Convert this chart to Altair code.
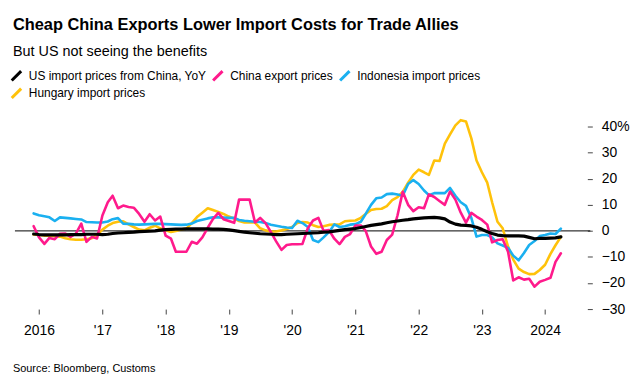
import altair as alt
import pandas as pd

# Monthly observations, Dec 2015 .. Apr 2024
months = [p.to_timestamp() for p in pd.period_range("2015-12", "2024-04", freq="M")]

series_names = [
    "US import prices from China, YoY",
    "China export prices",
    "Indonesia import prices",
    "Hungary import prices",
]
series_colors = ["#000000", "#ff1a8c", "#1ab0f0", "#ffc20a"]

us_china = [
    -1.2, -1.4, -1.5, -1.5, -1.5, -1.5, -1.5, -1.4, -1.4, -1.4,
    -1.3, -1.3, -1.3, -1.4, -1.3, -1.0, -0.8, -0.7, -0.6, -0.5,
    -0.3, -0.2, -0.1, 0.0, 0.3, 0.5, 0.6, 0.7, 0.7, 0.8,
    0.8, 0.8, 0.8, 0.8, 0.7, 0.7, 0.6, 0.4, 0.1, -0.2,
    -0.5, -0.7, -0.9, -1.1, -1.2, -1.3, -1.4, -1.4, -1.3, -1.2,
    -1.1, -1.0, -0.9, -0.8, -0.7, -0.5, -0.4, -0.1, 0.2, 0.5,
    0.7, 0.9, 1.3, 1.7, 2.1, 2.4, 2.7, 3.1, 3.5, 3.8,
    4.1, 4.3, 4.6, 4.8, 5.0, 5.1, 5.2, 5.0, 4.6, 3.4,
    2.6, 2.2, 2.1, 1.9, 1.4, 0.6, -0.3, -1.0, -1.6, -1.8,
    -1.9, -1.9, -1.9, -2.0, -2.5, -3.0, -2.9, -2.9, -2.8, -2.7,
    -2.3,
]
china_export = [
    1.8, -2.5, -5.0, -2.7, -3.2, -1.1, -1.0, -2.3, -1.0, 2.8,
    -4.2, -2.3, -2.9, 5.9, 11.0, 13.5, 8.7, 9.7, 9.2, 8.9,
    6.5, 3.5, 6.4, 4.0, 5.5, -1.8, -3.0, -8.0, -8.0, -8.0,
    -4.2, -4.9, -2.5, 1.2, 4.5, 6.9, 4.5, 3.8, 3.1, 12.0,
    12.0, 12.0, 3.2, 5.0, 3.0, -0.5, -4.0, -7.3, -5.4, -5.1,
    -5.1, -5.0, 1.0, 4.0, 5.0, 0.0, 0.3, -3.0, -5.1, -2.3,
    -1.2, 2.1, 2.1, 0.0, -6.0, -8.8, -8.0, -3.5, -1.4, 6.0,
    15.0, 10.0, 7.6, 9.1, 8.7, 14.0, 13.0, 11.5, 10.0, 15.1,
    12.0, 7.0, 3.2, 6.9, 5.5, 4.2, 2.4, -4.4, -3.5, -3.2,
    -8.0, -19.0, -17.8, -18.7, -18.4, -21.4, -19.5, -18.8, -18.0, -11.9,
    -8.6,
]
indonesia_import = [
    6.7, 6.0, 5.6, 5.2, 3.8, 5.2, 5.0, 4.8, 4.6, 4.4,
    3.4, 3.3, 3.2, 3.2, 3.6, 4.5, 4.9, 2.8, 2.7, 2.5,
    2.4, 2.5, 2.6, 2.7, 2.7, 2.6, 2.5, 2.4, 2.3, 2.4,
    2.8, 3.8, 4.3, 4.8, 5.2, 5.2, 5.1, 5.0, 5.0, 4.2,
    3.9, 3.7, 3.5, 3.4, 3.0, 2.4, 2.0, 1.6, 1.3, 1.1,
    3.9, 3.0, 1.5, -3.5, -4.3, -2.5, -0.5, 2.5, 1.5, 1.8,
    2.4, 2.6, 3.5, 6.5, 10.0, 12.5, 12.8, 14.1, 14.3, 14.0,
    13.5, 18.0, 19.5, 18.0, 15.5, 13.7, 14.5, 14.5, 14.5, 16.5,
    13.5, 11.0, 9.6, 5.0, -2.2, -1.6, -1.6, -2.5, -4.8, -5.6,
    -6.5, -9.5, -11.3, -8.5, -5.4, -3.9, -2.0, -1.6, -1.0, -1.2,
    0.9,
]
hungary_import = [
    -1.4, -1.6, -1.8, -1.8, -2.0, -2.2, -2.8, -3.2, -3.4, -3.4,
    -3.2, -2.8, -1.5, 0.5, 2.0, 3.0, 3.5, 3.7, 2.5, 1.5,
    0.5, 0.2, 1.2, 2.0, 1.0, 0.2, -0.4, 0.0, 0.5, 0.9,
    3.0, 5.3, 7.0, 8.7, 8.0, 7.3, 6.5, 5.5, 4.7, 3.8,
    3.2, 3.2, 3.2, 1.0, 0.2, -0.2, -0.2, 0.2, 0.7, 1.5,
    3.0, 3.4, 3.2, 2.2, 1.5, 1.8, 2.3, 2.4, 2.5, 3.7,
    3.9, 4.0, 5.0, 6.5, 8.0, 8.4, 8.5, 9.5, 11.8, 13.0,
    15.0, 18.5, 21.5, 23.5, 22.5, 21.5, 27.0, 26.8, 33.5, 37.0,
    40.5, 42.5, 42.0, 35.5, 27.0, 22.5, 18.5, 11.0, 3.5, 1.0,
    -6.0, -11.0, -14.5, -15.8, -16.6, -16.5, -15.0, -13.0, -8.8, -5.5,
    -2.3,
]

x_tick_years = [2016, 2017, 2018, 2019, 2020, 2021, 2022, 2023, 2024]
y_ticks = [-30, -20, -10, 0, 10, 20, 30, 40]

rows = []
for name, vals in zip(series_names, [us_china, china_export, indonesia_import, hungary_import]):
    for d, v in zip(months, vals):
        rows.append({"date": d, "value": v, "series": name})
df = pd.DataFrame(rows)

FONT = "Liberation Sans"

xenc = alt.X(
    "date:T",
    scale=alt.Scale(domain=[alt.DateTime(year=2015, month=8, date=15),
                            alt.DateTime(year=2024, month=9, date=18)]),
    axis=alt.Axis(
        values=[alt.DateTime(year=y, month=1, date=1) for y in x_tick_years],
        labelExpr="year(datum.value) == 2016 || year(datum.value) == 2024 ? timeFormat(datum.value, '%Y') : \"'\" + timeFormat(datum.value, '%y')",
        domain=False, grid=False, tickSize=5, tickColor="#444444",
        labelFontSize=14, labelPadding=10, labelColor="black", labelFont=FONT,
        title="Source: Bloomberg, Customs", titleFont=FONT, titleFontSize=11,
        titleFontWeight="normal", titleColor="black", titleAnchor="start",
        titleAlign="left", titleBaseline="alphabetic", titleX=-2.5, titleY=63,
    ),
)
yenc = alt.Y(
    "value:Q",
    scale=alt.Scale(domain=[-30, 45], nice=False, zero=False),
    axis=alt.Axis(
        orient="right", values=y_ticks, offset=-3,
        labelExpr="datum.value == 40 ? '40%' : datum.label",
        domain=False, grid=False, tickSize=5, tickColor="#444444",
        labelFontSize=14, labelPadding=9, labelColor="black", labelFont=FONT,
        labelAlign="left", title=None,
    ),
)
color = alt.Color(
    "series:N",
    scale=alt.Scale(domain=series_names, range=series_colors),
    legend=alt.Legend(
        title=None, orient="none", legendX=-5, legendY=-45,
        direction="horizontal", columns=3,
        symbolType="M-1,1L1,-1", symbolSize=90, symbolStrokeWidth=3,
        labelFont=FONT, labelFontSize=12, labelColor="black", labelLimit=400,
        columnPadding=0, rowPadding=-5, labelOffset=6,
    ),
)

zero_rule = alt.Chart(pd.DataFrame({"value": [0]})).mark_rule(
    color="black", strokeWidth=1
).encode(y=yenc)


def line_layer(name, width):
    return alt.Chart(df).transform_filter(
        alt.datum.series == name
    ).mark_line(strokeWidth=width, strokeJoin="round", strokeCap="round").encode(
        x=xenc, y=yenc, color=color
    )


chart = alt.layer(
    zero_rule,
    line_layer(series_names[3], 2.6),
    line_layer(series_names[2], 2.6),
    line_layer(series_names[1], 2.6),
    line_layer(series_names[0], 3.2),
).properties(
    width=580,
    height=197,
    padding={"left": 7, "top": 105, "right": 40, "bottom": 68},
    autosize=alt.AutoSizeParams(type="none"),
    background="white",
    title=alt.TitleParams(
        text="Cheap China Exports Lower Import Costs for Trade Allies",
        subtitle="But US not seeing the benefits",
        anchor="start", frame="group", font=FONT, fontSize=16.5,
        fontWeight="bold", color="black", subtitleFont=FONT,
        subtitleFontSize=14.5, subtitleColor="black", subtitlePadding=11,
        offset=11, dx=-2,
    ),
).configure_view(stroke=None)

chart.save("out.html", embed_options={"renderer": "svg", "actions": False})
